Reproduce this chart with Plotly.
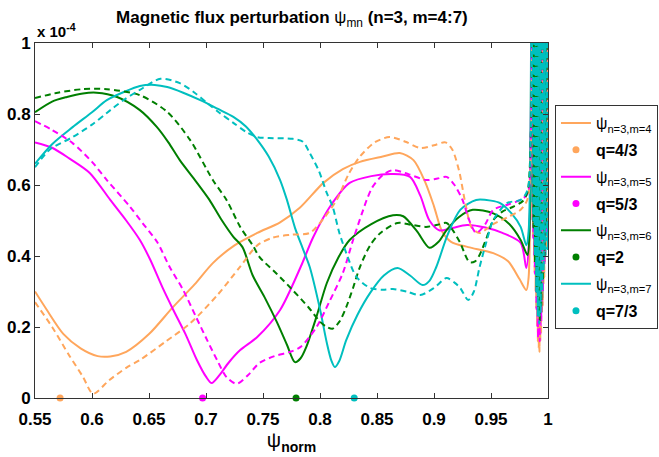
import plotly.graph_objects as go

# psi_norm coordinates and perturbation amplitude (units of 1e-4) for each poloidal mode
x_m4 = [0.550, 0.560, 0.575, 0.590, 0.605, 0.616, 0.630, 0.650, 0.671, 0.690, 0.706, 0.725, 0.745, 0.765,
        0.782, 0.803, 0.820, 0.835, 0.855, 0.870, 0.882, 0.892, 0.900, 0.907, 0.915, 0.930, 0.952, 0.965,
        0.975, 0.981, 0.983, 0.9845, 0.9856,
        0.9863, 0.9870, 0.9877, 0.9884, 0.9891, 0.9898, 0.9905, 0.9912, 0.9919, 0.9926, 0.9933, 0.9940,
        0.9947, 0.9954, 0.9961, 0.9968, 0.9975, 0.9982, 0.9989, 0.9995]
y_m4 = [0.300, 0.250, 0.180, 0.140, 0.118, 0.117, 0.130, 0.180, 0.256, 0.320, 0.380, 0.430, 0.465, 0.495,
        0.535, 0.606, 0.645, 0.665, 0.680, 0.690, 0.670, 0.610, 0.540, 0.470, 0.440, 0.425, 0.408, 0.385,
        0.335, 0.304, 0.340, 0.600, 1.200,
        0.50, 1.30, 0.40, 1.30, 0.30, 1.30, 0.20, 1.30, 0.14, 1.30, 0.16, 1.30,
        0.24, 1.30, 0.32, 1.30, 0.40, 1.30, 0.48, 1.30]

x_m4d = [0.550, 0.565, 0.580, 0.592, 0.601, 0.615, 0.630, 0.642, 0.665, 0.686, 0.710, 0.730, 0.745, 0.759,
         0.775, 0.791, 0.803, 0.815, 0.825, 0.835, 0.848, 0.861, 0.875, 0.888, 0.900, 0.910, 0.916, 0.922,
         0.928, 0.933, 0.940, 0.952, 0.965, 0.976, 0.982, 0.985, 0.9862,
         0.9869, 0.9876, 0.9883, 0.9890, 0.9897, 0.9904, 0.9911, 0.9918, 0.9925, 0.9932, 0.9939, 0.9946,
         0.9953, 0.9960, 0.9967, 0.9974, 0.9981, 0.9988, 0.9994]
y_m4d = [0.270, 0.200, 0.120, 0.060, 0.012, 0.050, 0.085, 0.107, 0.160, 0.210, 0.290, 0.370, 0.430, 0.452,
         0.460, 0.465, 0.505, 0.560, 0.630, 0.680, 0.720, 0.735, 0.722, 0.704, 0.712, 0.720, 0.700, 0.640,
         0.540, 0.480, 0.465, 0.490, 0.510, 0.530, 0.560, 0.700, 1.200,
         0.45, 1.30, 0.35, 1.30, 0.25, 1.30, 0.16, 1.30, 0.13, 1.30, 0.18, 1.30,
         0.26, 1.30, 0.34, 1.30, 0.42, 1.30, 0.50]

x_m5 = [0.550, 0.565, 0.580, 0.598, 0.616, 0.630, 0.642, 0.651, 0.662, 0.671, 0.682, 0.692, 0.700, 0.705,
        0.712, 0.720, 0.730, 0.745, 0.765, 0.783, 0.794, 0.810, 0.826, 0.845, 0.864, 0.879, 0.888, 0.896,
        0.905, 0.915, 0.929, 0.945, 0.960, 0.976, 0.981, 0.9835, 0.985, 0.9860,
        0.9866, 0.9873, 0.9880, 0.9887, 0.9894, 0.9901, 0.9908, 0.9915, 0.9922, 0.9929, 0.9936, 0.9943,
        0.9950, 0.9957, 0.9964, 0.9971, 0.9978, 0.9985, 0.9992]
y_m5 = [0.720, 0.705, 0.675, 0.634, 0.558, 0.500, 0.445, 0.390, 0.310, 0.250, 0.180, 0.107, 0.060, 0.042,
        0.065, 0.100, 0.135, 0.172, 0.248, 0.369, 0.453, 0.545, 0.606, 0.625, 0.631, 0.623, 0.570, 0.500,
        0.472, 0.478, 0.487, 0.480, 0.465, 0.437, 0.366, 0.450, 0.800, 1.200,
        0.50, 1.30, 0.40, 1.30, 0.30, 1.30, 0.20, 1.30, 0.16, 1.30, 0.18, 1.30,
        0.26, 1.30, 0.35, 1.30, 0.44, 1.30, 0.50]

x_m5d = [0.550, 0.565, 0.583, 0.600, 0.613, 0.633, 0.645, 0.657, 0.668, 0.680, 0.691, 0.701, 0.710, 0.718,
         0.727, 0.737, 0.747, 0.760, 0.774, 0.783, 0.797, 0.808, 0.820, 0.829, 0.841, 0.846, 0.855, 0.864,
         0.878, 0.893, 0.903, 0.911, 0.918, 0.925, 0.931, 0.937, 0.945, 0.952, 0.965, 0.976, 0.982, 0.985,
         0.9864,
         0.9871, 0.9878, 0.9885, 0.9892, 0.9899, 0.9906, 0.9913, 0.9920, 0.9927, 0.9934, 0.9941, 0.9948,
         0.9955, 0.9962, 0.9969, 0.9976, 0.9983, 0.9990]
y_m5d = [0.780, 0.755, 0.718, 0.665, 0.614, 0.540, 0.490, 0.440, 0.370, 0.304, 0.230, 0.163, 0.105, 0.059,
         0.040, 0.065, 0.099, 0.118, 0.130, 0.144, 0.200, 0.270, 0.352, 0.445, 0.558, 0.594, 0.628, 0.642,
         0.630, 0.614, 0.618, 0.623, 0.600, 0.558, 0.500, 0.465, 0.490, 0.530, 0.545, 0.558, 0.575, 0.750,
         1.200,
         0.45, 1.30, 0.35, 1.30, 0.25, 1.30, 0.17, 1.30, 0.16, 1.30, 0.22, 1.30,
         0.30, 1.30, 0.38, 1.30, 0.46, 1.30]

x_m6 = [0.550, 0.565, 0.578, 0.592, 0.604, 0.622, 0.642, 0.657, 0.667, 0.677, 0.690, 0.703, 0.713, 0.724,
        0.732, 0.741, 0.752, 0.762, 0.771, 0.778, 0.783, 0.788, 0.797, 0.806, 0.816, 0.826, 0.845, 0.864,
        0.873, 0.885, 0.896, 0.904, 0.911, 0.922, 0.934, 0.952, 0.966, 0.976, 0.982, 0.984, 0.9855, 0.9864,
        0.9871, 0.9878, 0.9885, 0.9892, 0.9899, 0.9906, 0.9913, 0.9920, 0.9927, 0.9934, 0.9941, 0.9948,
        0.9955, 0.9962, 0.9969, 0.9976, 0.9983, 0.9990]
y_m6 = [0.805, 0.835, 0.848, 0.858, 0.860, 0.848, 0.811, 0.763, 0.720, 0.670, 0.615, 0.558, 0.505, 0.454,
        0.425, 0.345, 0.280, 0.215, 0.150, 0.101, 0.112, 0.144, 0.230, 0.324, 0.395, 0.445, 0.490, 0.515,
        0.512, 0.470, 0.423, 0.440, 0.473, 0.510, 0.530, 0.520, 0.490, 0.445, 0.403, 0.500, 0.900, 1.200,
        0.50, 1.30, 0.42, 1.30, 0.32, 1.30, 0.25, 1.30, 0.22, 1.30, 0.24, 1.30,
        0.30, 1.30, 0.38, 1.30, 0.45, 1.30]

x_m6d = [0.550, 0.570, 0.592, 0.613, 0.642, 0.666, 0.686, 0.706, 0.718, 0.730, 0.741, 0.747, 0.762, 0.776,
         0.790, 0.800, 0.806, 0.811, 0.817, 0.823, 0.829, 0.835, 0.844, 0.853, 0.868, 0.880, 0.893, 0.903,
         0.911, 0.917, 0.923, 0.931, 0.936, 0.940, 0.946, 0.952, 0.960, 0.969, 0.978, 0.982, 0.985, 0.9865,
         0.9872, 0.9879, 0.9886, 0.9893, 0.9900, 0.9907, 0.9914, 0.9921, 0.9928, 0.9935, 0.9942, 0.9949,
         0.9956, 0.9963, 0.9970, 0.9977, 0.9984, 0.9991]
y_m6d = [0.845, 0.860, 0.870, 0.870, 0.853, 0.806, 0.727, 0.614, 0.558, 0.482, 0.430, 0.397, 0.350, 0.304,
         0.255, 0.215, 0.200, 0.195, 0.215, 0.256, 0.310, 0.369, 0.430, 0.465, 0.493, 0.488, 0.482, 0.488,
         0.493, 0.470, 0.437, 0.383, 0.385, 0.403, 0.450, 0.501, 0.525, 0.538, 0.555, 0.580, 0.750, 1.200,
         0.48, 1.30, 0.38, 1.30, 0.30, 1.30, 0.24, 1.30, 0.22, 1.30, 0.26, 1.30,
         0.33, 1.30, 0.40, 1.30, 0.48, 1.30]

x_m7 = [0.550, 0.565, 0.583, 0.600, 0.613, 0.628, 0.642, 0.655, 0.666, 0.680, 0.695, 0.710, 0.724, 0.735,
        0.745, 0.755, 0.765, 0.771, 0.778, 0.785, 0.791, 0.800, 0.806, 0.810, 0.813, 0.817, 0.823, 0.833,
        0.844, 0.856, 0.868, 0.879, 0.890, 0.896, 0.902, 0.912, 0.923, 0.937, 0.950, 0.958, 0.968, 0.976,
        0.981, 0.983, 0.9845, 0.9856,
        0.9862, 0.9868, 0.9875, 0.9881, 0.9888, 0.9894, 0.9901, 0.9907, 0.9914, 0.9920, 0.9927, 0.9933,
        0.9940, 0.9946, 0.9953, 0.9959, 0.9966, 0.9972, 0.9979, 0.9985, 0.9992, 0.9997]
y_m7 = [0.660, 0.715, 0.763, 0.805, 0.839, 0.862, 0.879, 0.882, 0.876, 0.860, 0.839, 0.815, 0.792, 0.765,
        0.727, 0.680, 0.614, 0.558, 0.480, 0.420, 0.369, 0.250, 0.155, 0.105, 0.087, 0.105, 0.163, 0.235,
        0.296, 0.345, 0.366, 0.345, 0.318, 0.330, 0.369, 0.460, 0.530, 0.558, 0.556, 0.549, 0.520, 0.482,
        0.430, 0.470, 0.700, 1.200,
        0.55, 1.30, 0.45, 1.30, 0.35, 1.30, 0.26, 1.30, 0.22, 1.30, 0.21, 1.30,
        0.24, 1.30, 0.28, 1.30, 0.34, 1.30, 0.40, 1.30, 0.42, 1.30]

x_m7d = [0.550, 0.563, 0.583, 0.600, 0.613, 0.628, 0.642, 0.660, 0.677, 0.690, 0.701, 0.712, 0.724, 0.735,
         0.745, 0.759, 0.776, 0.785, 0.791, 0.799, 0.806, 0.811, 0.817, 0.824, 0.832, 0.844, 0.855, 0.864,
         0.876, 0.888, 0.900, 0.911, 0.918, 0.923, 0.930, 0.935, 0.940, 0.946, 0.952, 0.964, 0.976, 0.982,
         0.985, 0.9865,
         0.9871, 0.9877, 0.9884, 0.9890, 0.9897, 0.9903, 0.9910, 0.9916, 0.9923, 0.9929, 0.9936, 0.9942,
         0.9949, 0.9955, 0.9962, 0.9968, 0.9975, 0.9981, 0.9988, 0.9994]
y_m7d = [0.650, 0.700, 0.735, 0.770, 0.803, 0.840, 0.868, 0.899, 0.887, 0.860, 0.831, 0.803, 0.775, 0.750,
         0.735, 0.732, 0.730, 0.722, 0.690, 0.640, 0.577, 0.540, 0.465, 0.400, 0.341, 0.310, 0.305, 0.307,
         0.300, 0.290, 0.310, 0.338, 0.325, 0.310, 0.276, 0.300, 0.369, 0.440, 0.501, 0.549, 0.558, 0.585,
         0.750, 1.200,
         0.50, 1.30, 0.40, 1.30, 0.30, 1.30, 0.23, 1.30, 0.21, 1.30, 0.24, 1.30,
         0.30, 1.30, 0.36, 1.30, 0.42, 1.30, 0.46, 1.30]

# resonant surface locations q = m/n on the psi_norm axis
q_labels = ["q=4/3", "q=5/3", "q=2", "q=7/3"]
q_psi = [0.572, 0.697, 0.779, 0.830]

mode_labels = ["ψ<sub>n=3,m=4</sub>", "ψ<sub>n=3,m=5</sub>",
               "ψ<sub>n=3,m=6</sub>", "ψ<sub>n=3,m=7</sub>"]
colors = ["#FFA65C", "#FF00FF", "#007F00", "#00BFBF"]

x_ticks = [0.55, 0.6, 0.65, 0.7, 0.75, 0.8, 0.85, 0.9, 0.95, 1.0]
x_tick_text = ["0.55", "0.6", "0.65", "0.7", "0.75", "0.8", "0.85", "0.9", "0.95", "1"]
y_ticks = [0, 0.2, 0.4, 0.6, 0.8, 1.0]
y_tick_text = ["0", "0.2", "0.4", "0.6", "0.8", "1"]

solid = [(x_m4, y_m4), (x_m5, y_m5), (x_m6, y_m6), (x_m7, y_m7)]
dashed = [(x_m4d, y_m4d), (x_m5d, y_m5d), (x_m6d, y_m6d), (x_m7d, y_m7d)]

FONT = "Liberation Sans, Arial, sans-serif"

fig = go.Figure()

for i, (xs, ys) in enumerate(solid):
    fig.add_trace(go.Scatter(
        x=xs, y=ys, mode="lines", name=mode_labels[i],
        line=dict(color=colors[i], width=2, shape="spline", smoothing=0.8),
        legendrank=10 + 2 * i, legendgroup=f"m{i}",
    ))

for i, (xs, ys) in enumerate(dashed):
    fig.add_trace(go.Scatter(
        x=xs, y=ys, mode="lines", showlegend=False,
        line=dict(color=colors[i], width=2, dash="6px,4px", shape="spline", smoothing=0.8),
    ))

for i in range(4):
    fig.add_trace(go.Scatter(
        x=[q_psi[i]], y=[0], mode="markers", name=f"<b>{q_labels[i]}</b>",
        marker=dict(color=colors[i], size=7, symbol="circle"),
        cliponaxis=False, legendrank=11 + 2 * i, legendgroup=f"q{i}",
    ))

fig.update_layout(
    width=659, height=457,
    margin=dict(l=35, r=111, t=43, b=59, autoexpand=False),
    paper_bgcolor="white", plot_bgcolor="white",
    font=dict(family=FONT, color="black"),
    title=dict(
        text="<b>Magnetic flux perturbation </b>ψ<sub>mn</sub><b> (n=3, m=4:7)</b>",
        x=0.443, xanchor="center", y=0.962, yanchor="middle",
        font=dict(size=17, family=FONT),
    ),
    showlegend=True,
    legend=dict(
        x=1.0136, xanchor="left", y=0.825, yanchor="top",
        bgcolor="white", bordercolor="#333333", borderwidth=1,
        font=dict(size=16, family=FONT),
        tracegroupgap=3, itemwidth=30,
    ),
)

fig.update_xaxes(
    range=[0.55, 1.0], tickvals=x_ticks, ticktext=x_tick_text,
    showline=True, linecolor="#333333", linewidth=1, mirror="ticks",
    ticks="inside", ticklen=5, tickcolor="#333333",
    showgrid=False, zeroline=False, ticklabelstandoff=6,
    tickfont=dict(size=17, family=FONT, weight="bold"),
    title=dict(text="ψ<sub><b>norm</b></sub>", font=dict(size=20, family=FONT), standoff=4),
)
fig.update_yaxes(
    range=[0, 1.0], tickvals=y_ticks, ticktext=y_tick_text,
    showline=True, linecolor="#333333", linewidth=1, mirror="ticks",
    ticks="inside", ticklen=5, tickcolor="#333333",
    showgrid=False, zeroline=False,
    tickfont=dict(size=17, family=FONT, weight="bold"),
)

# axis scale factor above the y axis
fig.add_annotation(
    xref="paper", yref="paper", x=0.0, y=1.0, xanchor="left", yanchor="bottom",
    text="<b>x 10<sup>-4</sup></b>", showarrow=False, yshift=1,
    font=dict(size=15, family=FONT),
)

fig.write_html("out.html")
